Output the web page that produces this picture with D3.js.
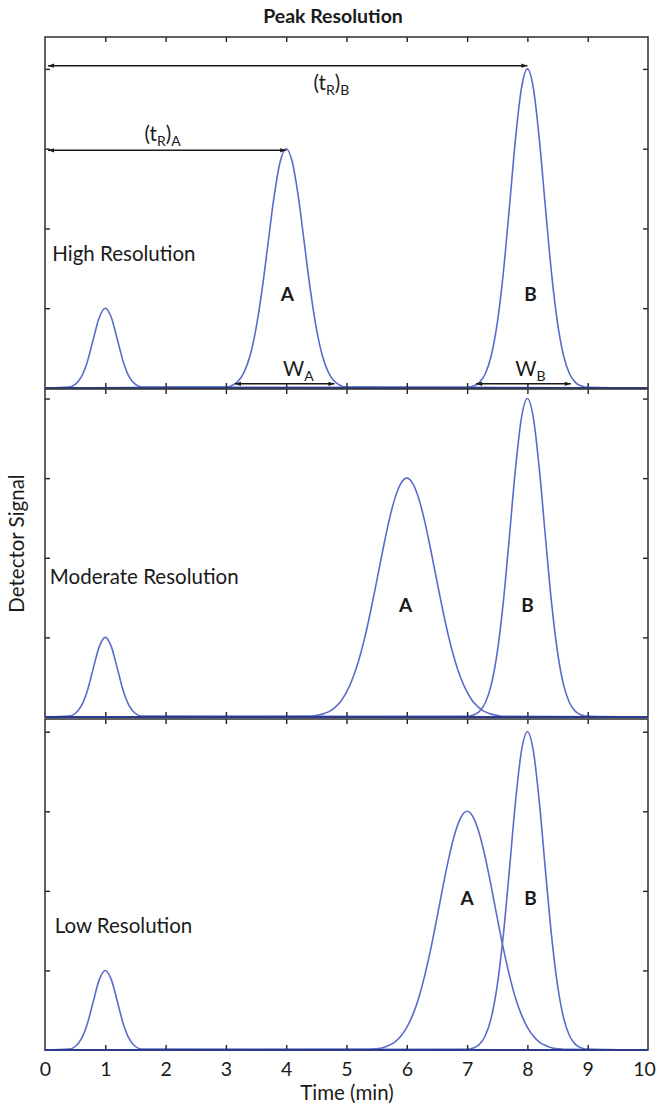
<!DOCTYPE html>
<html>
<head>
<meta charset="utf-8">
<script src="https://cdn.jsdelivr.net/npm/d3@7"></script>
<style>
  body { margin: 0; background: #fff; }
  text { font-family: Lato, "Noto Sans", sans-serif; fill: #1a1a1a; }
</style>
</head>
<body>
<div id="chart"></div>
<script>
// tick values
let xTickValues = [0, 1, 2, 3, 4, 5, 6, 7, 8, 9, 10];
let yTickValues = [0.25, 0.5, 0.75, 1.0];

// panels, top to bottom
let panelNames = ['High Resolution', 'Moderate Resolution', 'Low Resolution'];
let panelYMax = [1.1, 1.03, 1.04];
let panelLabelPos = [[0.12, 0.42], [0.08, 0.44], [0.16, 0.39]];

let sampleStep = 0.1;
let peakSmall = [0.003, 0.011, 0.034, 0.081, 0.152, 0.221, 0.25, 0.221, 0.152, 0.081, 0.034, 0.011, 0.003];
let peakAHigh = [0.003, 0.008, 0.021, 0.049, 0.101, 0.187, 0.308, 0.455, 0.601, 0.709, 0.75,
                 0.709, 0.601, 0.455, 0.308, 0.187, 0.101, 0.049, 0.021, 0.008, 0.003];
let peakAModerate = [0.002, 0.005, 0.009, 0.016, 0.029, 0.048, 0.078, 0.120, 0.176, 0.247, 0.332, 0.426,
                     0.522, 0.612, 0.685, 0.733, 0.75, 0.733, 0.685, 0.612, 0.522, 0.426, 0.332, 0.247,
                     0.176, 0.120, 0.078, 0.048, 0.029, 0.016, 0.009, 0.005, 0.002];
let peakALow = [0.002, 0.004, 0.007, 0.014, 0.025, 0.043, 0.071, 0.111, 0.165, 0.236, 0.320, 0.415,
                0.514, 0.606, 0.682, 0.732, 0.75, 0.732, 0.682, 0.606, 0.514, 0.415, 0.320, 0.236,
                0.165, 0.111, 0.071, 0.043, 0.025, 0.014, 0.007, 0.004, 0.002];
let peakB = [0.002, 0.006, 0.017, 0.044, 0.101, 0.203, 0.360, 0.563, 0.775, 0.938, 1.0,
             0.938, 0.775, 0.563, 0.360, 0.203, 0.101, 0.044, 0.017, 0.006, 0.002];

// which panel, first sample time, values
let series = [
    [0, 0.4, peakSmall], [0, 3.0, peakAHigh], [0, 7.0, peakB],
    [1, 0.4, peakSmall], [1, 4.4, peakAModerate], [1, 7.0, peakB],
    [2, 0.4, peakSmall], [2, 5.4, peakALow], [2, 7.0, peakB]
];

// peak letters: panel, label, time, signal
let peakLabels = [
    [0, 'A', 4.02, 0.295], [0, 'B', 8.05, 0.295],
    [1, 'A', 5.98, 0.35], [1, 'B', 8.0, 0.35],
    [2, 'A', 7.0, 0.475], [2, 'B', 8.05, 0.475]
];

// annotation arrows in the top panel: from, to, signal
let arrows = [[0.05, 8.0, 1.01], [0.05, 4.0, 0.745], [3.15, 4.8, 0.013], [7.15, 8.72, 0.013]];
// annotation text: main, subscript, sub-sub, time, signal
let arrowLabels = [
    ['(t', 'R', ')', 'B', 4.75, 0.955],
    ['(t', 'R', ')', 'A', 1.95, 0.795],
    ['W', 'A', '', '', 4.2, 0.06],
    ['W', 'B', '', '', 8.05, 0.06]
];

let svgWidth = 658;
let svgHeight = 1105;
let left = 45, right = 648;
let panelTop = [37, 389, 719];
let panelBottom = [388, 717, 1050];
let curveColor = '#5a6cc8';
let fontSize = 20.5;

let svg = d3.select('#chart').append('svg')
    .attr('width', svgWidth)
    .attr('height', svgHeight);

svg.append('defs').append('marker')
    .attr('id', 'head')
    .attr('viewBox', '0 0 10 10')
    .attr('refX', 10).attr('refY', 5)
    .attr('markerWidth', 8).attr('markerHeight', 6)
    .attr('markerUnits', 'userSpaceOnUse')
    .attr('orient', 'auto-start-reverse')
    .append('path')
    .attr('d', 'M0,1.5 L10,5 L0,8.5 Z')
    .attr('fill', '#1a1a1a');

let x = d3.scaleLinear().domain([0, 10]).range([left, right]);

let yScales = panelNames.map((name, i) =>
    d3.scaleLinear().domain([0, panelYMax[i]]).range([panelBottom[i], panelTop[i]]));

// curves
let line = d3.line().x(d => x(d[0])).y(d => d[1]).curve(d3.curveMonotoneX);
series.forEach(s => {
    let y = yScales[s[0]];
    let pts = [[0, y(0)]];
    s[2].forEach((v, i) => pts.push([s[1] + i * sampleStep, y(v)]));
    pts.push([10, y(0)]);
    svg.append('path')
        .attr('d', line(pts))
        .attr('fill', 'none')
        .attr('stroke', curveColor)
        .attr('stroke-width', 1.6);
});

// frames and ticks
panelNames.forEach((name, i) => {
    let y = yScales[i];
    let g = svg.append('g');
    g.append('g').attr('transform', `translate(0,${panelBottom[i]})`)
        .call(d3.axisTop(x).tickValues(xTickValues.slice(1, -1)).tickSize(5).tickFormat(''));
    g.append('g').attr('transform', `translate(0,${panelTop[i]})`)
        .call(d3.axisBottom(x).tickValues(xTickValues.slice(1, -1)).tickSize(5).tickFormat(''));
    g.append('g').attr('transform', `translate(${left},0)`)
        .call(d3.axisRight(y).tickValues(yTickValues).tickSize(5).tickFormat(''));
    g.append('g').attr('transform', `translate(${right},0)`)
        .call(d3.axisLeft(y).tickValues(yTickValues).tickSize(5).tickFormat(''));
    g.selectAll('.domain').remove();
    g.selectAll('.tick line').attr('stroke', '#222').attr('stroke-width', 1.4);
    g.append('rect')
        .attr('x', left).attr('y', panelTop[i])
        .attr('width', right - left).attr('height', panelBottom[i] - panelTop[i])
        .attr('fill', 'none').attr('stroke', '#3a3a3a').attr('stroke-width', 1.6);
    // baseline where the curves lie on the axis
    g.append('line')
        .attr('x1', left).attr('x2', right)
        .attr('y1', y(0)).attr('y2', y(0))
        .attr('stroke', '#2b3a8a').attr('stroke-width', 2);

    g.append('text')
        .attr('x', x(panelLabelPos[i][0]))
        .attr('y', y(panelLabelPos[i][1]))
        .attr('dy', '0.35em')
        .attr('font-size', fontSize)
        .text(name);
});

peakLabels.forEach(d => {
    svg.append('text')
        .attr('x', x(d[2])).attr('y', yScales[d[0]](d[3]))
        .attr('dy', '0.35em')
        .attr('text-anchor', 'middle')
        .attr('font-size', 19).attr('font-weight', 'bold')
        .text(d[1]);
});

// arrows
let yTop = yScales[0];
arrows.forEach(d => {
    svg.append('line')
        .attr('x1', x(d[0])).attr('x2', x(d[1]))
        .attr('y1', yTop(d[2])).attr('y2', yTop(d[2]))
        .attr('stroke', '#1a1a1a').attr('stroke-width', 1.5)
        .attr('marker-start', 'url(#head)')
        .attr('marker-end', 'url(#head)');
});
arrowLabels.forEach(d => {
    let t = svg.append('text')
        .attr('x', x(d[4])).attr('y', yTop(d[5]))
        .attr('dy', '0.35em')
        .attr('text-anchor', 'middle')
        .attr('font-size', fontSize);
    t.append('tspan').text(d[0]);
    t.append('tspan').attr('font-size', 14).attr('dy', 5).text(d[1]);
    if (d[2]) {
        t.append('tspan').attr('dy', -5).text(d[2]);
        t.append('tspan').attr('font-size', 14).attr('dy', 5).text(d[3]);
    }
});

// x tick labels
svg.append('g')
    .attr('transform', `translate(0,${panelBottom[2]})`)
    .call(d3.axisBottom(x).tickValues(xTickValues).tickSize(0).tickPadding(12).tickFormat(d3.format('d')))
    .call(g => g.select('.domain').remove())
    .selectAll('text')
    .attr('font-size', 19.5)
    .attr('font-family', 'Lato, "Noto Sans", sans-serif')
    .attr('fill', '#1a1a1a')
    .attr('dx', d => d === 10 ? -4 : 0);

svg.append('text')
    .attr('x', 347).attr('y', 1100)
    .attr('text-anchor', 'middle')
    .attr('font-size', fontSize)
    .text('Time (min)');

svg.append('text')
    .attr('transform', `translate(24,${(panelTop[0] + panelBottom[2]) / 2}) rotate(-90)`)
    .attr('text-anchor', 'middle')
    .attr('font-size', fontSize)
    .text('Detector Signal');

svg.append('text')
    .attr('x', 333).attr('y', 23)
    .attr('text-anchor', 'middle')
    .attr('font-size', 19.5).attr('font-weight', 'bold')
    .text('Peak Resolution');
</script>
</body>
</html>
